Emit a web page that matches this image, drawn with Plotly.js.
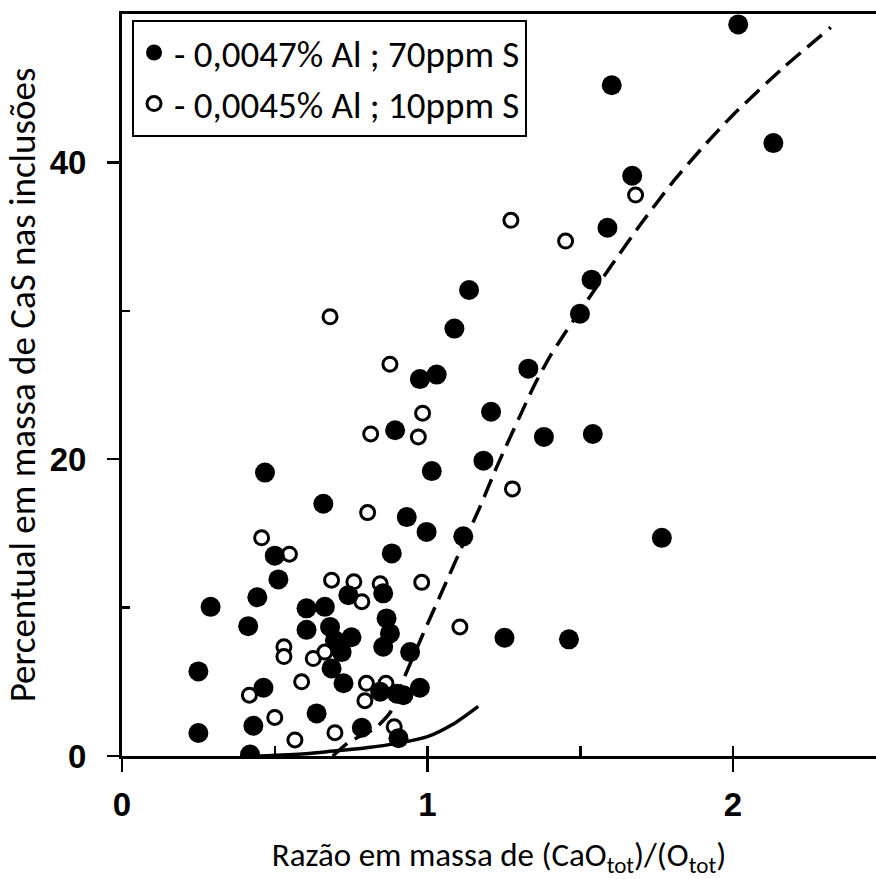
<!DOCTYPE html>
<html>
<head>
<meta charset="utf-8">
<script src="https://cdn.plot.ly/plotly-3.0.1.min.js"></script>
<style>
html, body { margin: 0; padding: 0; background: #ffffff; }
#chart { width: 876px; height: 879px; }
</style>
</head>
<body>
<div id="chart"></div>
<script>
// Series: 0,0047% Al ; 70ppm S (filled circles)
var filledX = [2.017, 1.603, 2.132, 1.670, 1.589, 1.136, 1.537, 1.088, 1.499, 1.330,
               0.975, 1.030, 1.208, 0.894, 1.381, 1.541, 1.183, 1.014, 0.932, 0.997,
               1.117, 1.767, 1.252, 1.463, 0.943, 0.975, 0.921, 0.905, 0.468, 0.659,
               0.883, 0.500, 0.512, 0.290, 0.443, 0.741, 0.855, 0.604, 0.664, 0.604,
               0.681, 0.751, 0.697, 0.719, 0.866, 0.877, 0.855, 0.413, 0.686, 0.250,
               0.725, 0.463, 0.845, 0.900, 0.637, 0.430, 0.250, 0.785, 0.419];
var filledY = [49.3, 45.2, 41.3, 39.1, 35.6, 31.4, 32.1, 28.8, 29.8, 26.1,
               25.4, 25.7, 23.2, 21.95, 21.5, 21.7, 19.9, 19.2, 16.1, 15.1,
               14.8, 14.7, 7.97, 7.86, 7.0, 4.6, 4.1, 1.2, 19.1, 17.0,
               13.65, 13.5, 11.9, 10.05, 10.7, 10.84, 10.96, 9.95, 10.05, 8.5,
               8.7, 8.0, 7.8, 7.0, 9.27, 8.26, 7.36, 8.75, 5.9, 5.7,
               4.9, 4.6, 4.33, 4.2, 2.87, 2.04, 1.55, 1.9, 0.1];

// Series: 0,0045% Al ; 10ppm S (open circles)
var openX = [1.681, 1.273, 1.452, 0.681, 0.877, 0.984, 0.970, 0.814, 1.278, 0.804,
             0.981, 1.106, 0.457, 0.548, 0.686, 0.759, 0.785, 0.845, 0.530, 0.530,
             0.626, 0.664, 0.588, 0.800, 0.864, 0.417, 0.795, 0.500, 0.566, 0.697, 0.891];
var openY = [37.8, 36.1, 34.7, 29.6, 26.4, 23.1, 21.5, 21.7, 18.0, 16.4,
             11.7, 8.7, 14.7, 13.6, 11.85, 11.74, 10.4, 11.6, 7.36, 6.7,
             6.57, 7.0, 5.0, 4.9, 4.9, 4.1, 3.73, 2.6, 1.08, 1.57, 1.97];

// Curves
var dashX = [0.69, 0.74, 0.83, 0.88, 0.92, 0.985, 1.05, 1.117, 1.172, 1.227,
             1.30, 1.35, 1.40, 1.45, 1.50, 1.60, 1.70, 1.80, 1.90, 2.00, 2.16, 2.32];
var dashY = [0.0, 0.9, 1.9, 3.0, 5.1, 8.2, 11.2, 14.3, 16.8, 19.5,
             22.8, 25.0, 26.9, 28.5, 30.0, 33.0, 35.9, 38.6, 41.0, 43.2, 46.3, 49.1];
var solidX = [0.45, 0.6, 0.7, 0.8, 0.9, 1.0, 1.08, 1.166];
var solidY = [0.0, 0.15, 0.35, 0.55, 0.85, 1.3, 2.1, 3.35];

var legendNames = ['- 0,0047% Al ; 70ppm S', '- 0,0045% Al ; 10ppm S'];
var xTicks = [0, 1, 2];
var xMinorTicks = [0.5, 1.5];
var yTicks = [0, 20, 40];
var yMinorTicks = [10, 30];

// inner half of the crossing major ticks (nudged so they are not merged with the major ticks)
var xInnerTicks = xMinorTicks.concat(xTicks.slice(1).map(function (v) { return v + 0.0004; }));

var titleFont = 'Carlito, Lato, sans-serif';
var tickFont = {family: 'Liberation Sans, Arial, sans-serif', size: 33, color: '#000', weight: 'bold'};

var traces = [
  {
    x: openX, y: openY, type: 'scatter', mode: 'markers', name: legendNames[1],
    legendrank: 2,
    marker: {symbol: 'circle', size: 14, color: '#ffffff', line: {color: '#000000', width: 3}}
  },
  {
    x: filledX, y: filledY, type: 'scatter', mode: 'markers', name: legendNames[0],
    legendrank: 1,
    marker: {symbol: 'circle', size: 20, color: '#000000', line: {width: 0}}
  },
  {
    x: dashX, y: dashY, type: 'scatter', mode: 'lines', showlegend: false,
    line: {color: '#000000', width: 3.5, dash: '19px,9px', shape: 'spline', smoothing: 0.6}
  },
  {
    x: solidX, y: solidY, type: 'scatter', mode: 'lines', showlegend: false,
    line: {color: '#000000', width: 3.5, shape: 'spline', smoothing: 0.8}
  }
];

var xr = [0, 2.468];
var yr = [0, 50];

var layout = {
  width: 876, height: 879,
  margin: {l: 122, r: 0, t: 14, b: 123, pad: 0},
  paper_bgcolor: '#ffffff', plot_bgcolor: '#ffffff',
  showlegend: true,
  legend: {
    x: 0.0133, y: 0.992, xanchor: 'left', yanchor: 'top',
    bgcolor: '#ffffff', bordercolor: '#000000', borderwidth: 2,
    font: {family: titleFont, size: 37, color: '#000'},
    tracegroupgap: 0, itemsizing: 'trace'
  },
  xaxis: {
    range: xr, autorange: false, showgrid: false, zeroline: false,
    showline: true, linecolor: '#000', linewidth: 3, mirror: true,
    tickmode: 'array', tickvals: xTicks, ticktext: xTicks.map(String),
    ticks: 'outside', ticklen: 13, tickwidth: 2.5, tickcolor: '#000',
    ticklabelstandoff: 4,
    tickfont: tickFont,
    minor: {tickmode: 'array', tickvals: xInnerTicks, ticks: 'inside', ticklen: 10, tickwidth: 2.5, tickcolor: '#000', showgrid: false},
    title: {text: 'Razão em massa de (CaO<sub>tot</sub>)/(O<sub>tot</sub>)', standoff: 25,
            font: {family: titleFont, size: 33, color: '#000'}}
  },
  yaxis: {
    range: yr, autorange: false, showgrid: false, zeroline: false,
    showline: true, linecolor: '#000', linewidth: 3, mirror: false,
    tickmode: 'array', tickvals: yTicks, ticktext: yTicks.map(String),
    ticks: 'outside', ticklen: 12, tickwidth: 2.5, tickcolor: '#000',
    ticklabelstandoff: 14,
    tickfont: tickFont,
    minor: {tickmode: 'array', tickvals: yMinorTicks, ticks: 'inside', ticklen: 8, tickwidth: 2.5, tickcolor: '#000', showgrid: false},
    title: {text: 'Percentual em massa de CaS nas inclusões', standoff: 10,
            font: {family: titleFont, size: 37, color: '#000'}}
  }
};

Plotly.newPlot('chart', traces, layout, {staticPlot: true, displayModeBar: false});
</script>
</body>
</html>
